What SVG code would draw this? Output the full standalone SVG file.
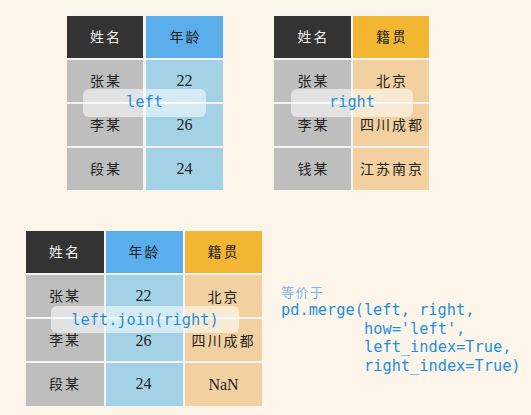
<svg xmlns="http://www.w3.org/2000/svg" width="531" height="415" viewBox="0 0 531 415">
<style>
.bg{fill:#FDF5EA}
.tb{fill:#F4F4F4}
.hd{fill:#333333}
.hb{fill:#5AAEEC}
.ho{fill:#F2B632}
.g{fill:#BEBEBE}
.b{fill:#A3D2E6}
.o{fill:#F2D0A0}
.cj{font-family:"Noto Sans CJK SC","Noto Sans",sans-serif;font-size:14px;text-anchor:middle;fill:#222;letter-spacing:2px}
.cw{fill:#EEEEEE}
.num{font-family:"Liberation Serif",serif;font-size:16px;text-anchor:middle;fill:#222}
.lab{fill:#FFFFFF;fill-opacity:0.55}
.mono{font-family:"DejaVu Sans Mono","Liberation Mono",monospace;font-size:15.3px;fill:#1E8FE0}
.mid{text-anchor:middle}
.note{font-family:"Noto Sans CJK SC",sans-serif;font-size:13px;fill:#72B6EA;letter-spacing:1.5px}
</style>
<rect class="bg" x="0" y="0" width="531" height="415"/>

<g id="left-table">
<rect class="tb" x="66" y="15" width="158" height="176"/>
<rect class="hd" x="67" y="16" width="76" height="42"/>
<rect class="hb" x="146" y="16" width="77" height="42"/>
<rect class="g" x="67" y="60" width="76" height="42"/>
<rect class="b" x="146" y="60" width="77" height="42"/>
<rect class="g" x="67" y="104" width="76" height="42"/>
<rect class="b" x="146" y="104" width="77" height="42"/>
<rect class="g" x="67" y="148" width="76" height="42"/>
<rect class="b" x="146" y="148" width="77" height="42"/>
<text class="cj cw" x="106" y="42">姓名</text>
<text class="cj" x="185.5" y="42">年龄</text>
<text class="cj" x="106" y="86">张某</text>
<text class="num" x="184.5" y="86">22</text>
<text class="cj" x="106" y="130">李某</text>
<text class="num" x="184.5" y="130">26</text>
<text class="cj" x="106" y="174">段某</text>
<text class="num" x="184.5" y="174">24</text>
</g>
<g id="left-label">
<rect class="lab" x="83" y="89" width="123" height="28" rx="6"/>
<text class="mono mid" x="144.5" y="107">left</text>
</g>

<g id="right-table">
<rect class="tb" x="273" y="15" width="157" height="176"/>
<rect class="hd" x="274" y="16" width="77" height="42"/>
<rect class="ho" x="353" y="16" width="76" height="42"/>
<rect class="g" x="274" y="60" width="77" height="42"/>
<rect class="o" x="353" y="60" width="76" height="42"/>
<rect class="g" x="274" y="104" width="77" height="42"/>
<rect class="o" x="353" y="104" width="76" height="42"/>
<rect class="g" x="274" y="148" width="77" height="42"/>
<rect class="o" x="353" y="148" width="76" height="42"/>
<text class="cj cw" x="313.5" y="42">姓名</text>
<text class="cj" x="392" y="42">籍贯</text>
<text class="cj" x="313.5" y="86">张某</text>
<text class="cj" x="392" y="86">北京</text>
<text class="cj" x="313.5" y="130">李某</text>
<text class="cj" x="392" y="130">四川成都</text>
<text class="cj" x="313.5" y="174">钱某</text>
<text class="cj" x="392" y="174">江苏南京</text>
</g>
<g id="right-label">
<rect class="lab" x="291" y="89" width="122" height="28" rx="6"/>
<text class="mono mid" x="352" y="107">right</text>
</g>

<g id="join-table">
<rect class="tb" x="25" y="230" width="238" height="177"/>
<rect class="hd" x="26" y="231" width="78" height="42"/>
<rect class="hb" x="106" y="231" width="77" height="42"/>
<rect class="ho" x="185" y="231" width="77" height="42"/>
<rect class="g" x="26" y="275" width="78" height="42"/>
<rect class="b" x="106" y="275" width="77" height="42"/>
<rect class="o" x="185" y="275" width="77" height="42"/>
<rect class="g" x="26" y="319" width="78" height="42"/>
<rect class="b" x="106" y="319" width="77" height="42"/>
<rect class="o" x="185" y="319" width="77" height="42"/>
<rect class="g" x="26" y="363" width="78" height="43"/>
<rect class="b" x="106" y="363" width="77" height="43"/>
<rect class="o" x="185" y="363" width="77" height="43"/>
<text class="cj cw" x="65" y="257">姓名</text>
<text class="cj" x="144.5" y="257">年龄</text>
<text class="cj" x="223.5" y="257">籍贯</text>
<text class="cj" x="65" y="301">张某</text>
<text class="num" x="143.5" y="301">22</text>
<text class="cj" x="223.5" y="302">北京</text>
<text class="cj" x="65" y="345">李某</text>
<text class="num" x="143.5" y="346">26</text>
<text class="cj" x="223.5" y="346">四川成都</text>
<text class="cj" x="65" y="389">段某</text>
<text class="num" x="143.5" y="389">24</text>
<text class="num" x="223.5" y="390">NaN</text>
</g>
<g id="join-label">
<rect class="lab" x="51" y="306" width="188" height="27" rx="6"/>
<text class="mono mid" x="145" y="325">left.join(right)</text>
</g>

<g id="code">
<text class="note" x="281" y="297">等价于</text>
<text class="mono" x="281" y="315" xml:space="preserve">pd.merge(left, right,</text>
<text class="mono" x="364" y="334">how='left',</text>
<text class="mono" x="364" y="352">left_index=True,</text>
<text class="mono" x="364" y="371">right_index=True)</text>
</g>
<g id="connectors"/>
</svg>
